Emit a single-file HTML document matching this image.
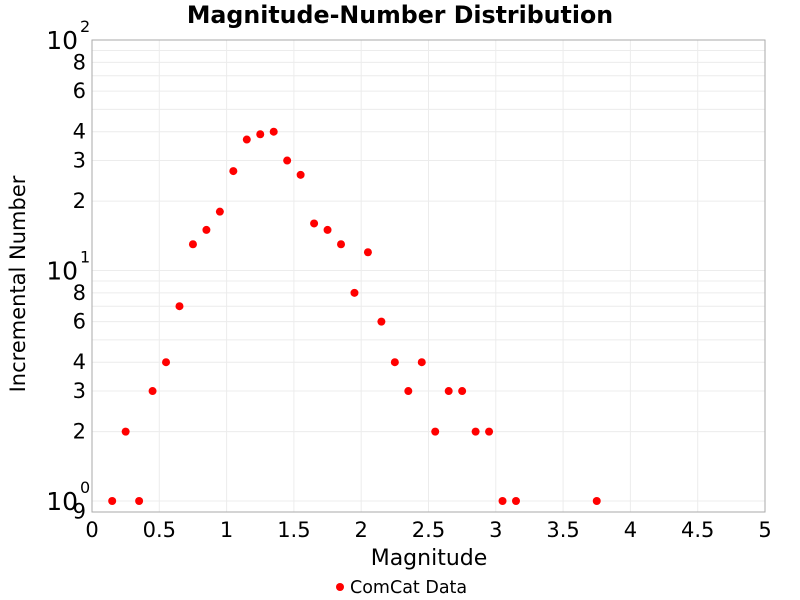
<!DOCTYPE html>
<html><head><meta charset="utf-8"><style>body{margin:0;background:#fff}svg{display:block;font-family:"DejaVu Sans","Liberation Sans",sans-serif}</style></head>
<body>
<svg id="s" width="800" height="600" xmlns="http://www.w3.org/2000/svg">
<rect width="800" height="600" fill="#fff"/>
<text x="400" y="23" text-anchor="middle" font-size="23.7" font-weight="bold">Magnitude-Number Distribution</text>
<g id="grid"></g>
<rect x="92" y="40" width="673" height="472" fill="none" stroke="#aaa" stroke-width="1"/>
<g id="lab" font-size="21"></g>
<g id="pts" fill="#f00"></g>
<text x="429" y="565" text-anchor="middle" font-size="22">Magnitude</text>
<text transform="translate(25,284) rotate(-90)" text-anchor="middle" font-size="21">Incremental Number</text>
<circle cx="340" cy="587" r="4" fill="#f00"/>
<text x="350" y="593" font-size="17.5">ComCat Data</text>
</svg>
<script>
var NS="http://www.w3.org/2000/svg";
function el(p,t,a,txt){var e=document.createElementNS(NS,t);for(var k in a)e.setAttribute(k,a[k]);if(txt!=null)e.textContent=txt;document.getElementById(p).appendChild(e);return e;}
function X(m){return 92+134.6*m;}
function Y(v){return 501-230.5*Math.log10(v);}
for(var i=1;i<10;i++){el('grid','line',{x1:X(i*0.5),x2:X(i*0.5),y1:40,y2:512,stroke:'#ececec'});}
var vals=[];for(var d=1;d<=10;d*=10)for(var k=1;k<10;k++)vals.push(k*d);vals.push(100);
vals.forEach(function(v){el('grid','line',{x1:92,x2:765,y1:Y(v),y2:Y(v),stroke:'#ececec'});});
for(var i=0;i<=10;i++){var m=i*0.5;el('lab','text',{x:X(m),y:537,'text-anchor':'middle'},String(m));}
[[2,2],[3,3],[4,4],[6,6],[8,8],[20,2],[30,3],[40,4],[60,6],[80,8],[0.9,9]].forEach(function(p){el('lab','text',{x:86,y:Y(p[0])+7,'text-anchor':'end'},String(p[1]));});
[[1,0],[10,1],[100,2]].forEach(function(p){var y=Y(p[0]);el('lab','text',{x:78,y:y+9,'text-anchor':'end','font-size':25},'10');el('lab','text',{x:80,y:y-8,'font-size':16},String(p[1]));});
var d=[[0.15,1],[0.25,2],[0.35,1],[0.45,3],[0.55,4],[0.65,7],[0.75,13],[0.85,15],[0.95,18],[1.05,27],[1.15,37],[1.25,39],[1.35,40],[1.45,30],[1.55,26],[1.65,16],[1.75,15],[1.85,13],[1.95,8],[2.05,12],[2.15,6],[2.25,4],[2.35,3],[2.45,4],[2.55,2],[2.65,3],[2.75,3],[2.85,2],[2.95,2],[3.05,1],[3.15,1],[3.75,1]];
d.forEach(function(p){el('pts','circle',{cx:X(p[0]),cy:Y(p[1]),r:4});});
</script>
</body></html>
